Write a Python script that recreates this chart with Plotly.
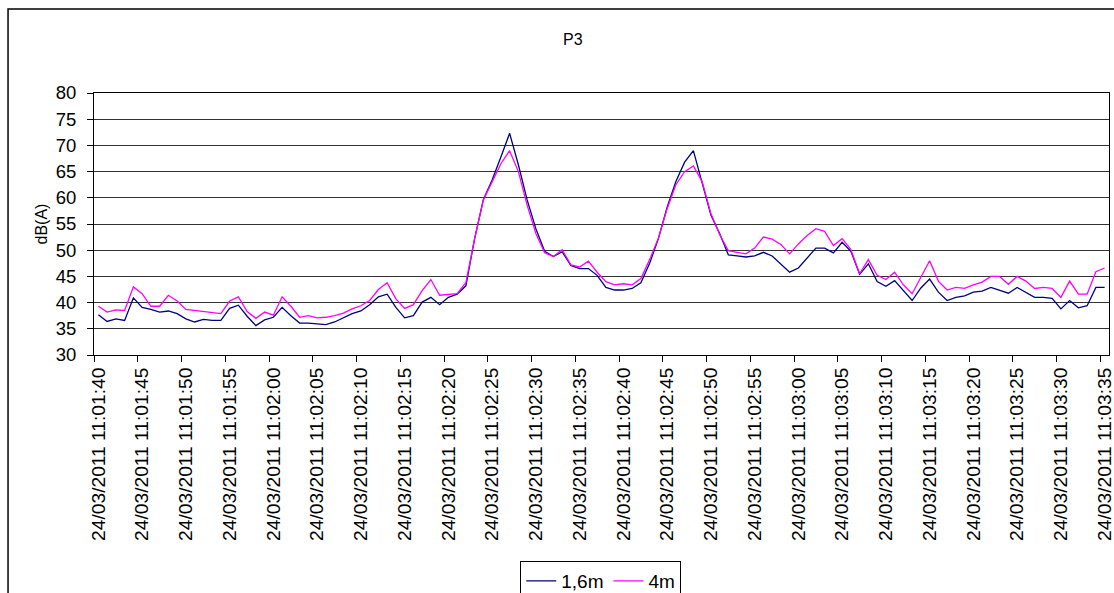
import plotly.graph_objects as go
from datetime import datetime, timedelta

start_time = "24/03/2011 11:01:40"
n_points = 116

level_1_6m = [
    37.7, 36.4, 36.9, 36.6, 40.9, 39.1, 38.7, 38.2, 38.4, 37.9,
    36.9, 36.3, 36.8, 36.6, 36.6, 38.9, 39.5, 37.4, 35.6, 36.7,
    37.2, 39.1, 37.5, 36.1, 36.1, 35.9, 35.8, 36.3, 37.1, 37.9,
    38.4, 39.6, 41.1, 41.6, 39.1, 37.1, 37.5, 40.1, 41.0, 39.6,
    41.0, 41.6, 43.2, 52.2, 59.7, 63.4, 67.8, 72.3, 66.3, 59.6,
    54.1, 49.8, 48.8, 49.7, 47.1, 46.5, 46.5, 45.2, 42.9, 42.4,
    42.4, 42.7, 43.8, 47.5, 52.2, 58.2, 63.1, 66.8, 69.0, 63.0,
    56.7, 53.2, 49.1, 48.9, 48.7, 48.9, 49.6, 48.9, 47.4, 45.8,
    46.6, 48.5, 50.4, 50.4, 49.5, 51.5, 49.8, 45.4, 47.4, 44.0,
    43.1, 44.2, 42.3, 40.4, 42.8, 44.5, 42.0, 40.4, 41.0, 41.3,
    42.0, 42.2, 42.9, 42.3, 41.8, 42.9, 42.0, 41.0, 41.0, 40.8,
    38.8, 40.4, 39.0, 39.4, 42.9, 42.9,
]

level_4m = [
    39.3, 38.2, 38.6, 38.5, 43.0, 41.7, 39.3, 39.3, 41.4, 40.3,
    38.7, 38.5, 38.4, 38.2, 37.9, 40.3, 41.1, 38.3, 37.0, 38.2,
    37.6, 41.1, 39.3, 37.2, 37.5, 37.1, 37.2, 37.5, 38.0, 38.8,
    39.4, 40.4, 42.5, 43.8, 40.7, 38.9, 39.6, 42.3, 44.4, 41.4,
    41.5, 41.7, 43.8, 52.2, 59.6, 63.0, 66.5, 69.0, 65.0, 58.6,
    53.2, 49.5, 48.8, 50.1, 47.2, 46.8, 47.9, 45.8, 44.0, 43.4,
    43.6, 43.4, 44.6, 48.2, 52.3, 57.9, 62.5, 65.0, 66.1, 63.1,
    57.0, 53.0, 49.9, 49.6, 49.3, 50.4, 52.5, 52.1, 51.1, 49.3,
    51.2, 52.8, 54.1, 53.6, 50.9, 52.2, 50.1, 45.5, 48.2, 45.2,
    44.4, 45.8, 43.4, 41.7, 44.8, 48.0, 44.1, 42.4, 42.9, 42.7,
    43.4, 43.9, 45.0, 45.0, 43.5, 45.0, 44.1, 42.7, 42.9, 42.7,
    41.0, 44.1, 41.6, 41.6, 45.9, 46.6,
]

t0 = datetime.strptime(start_time, "%d/%m/%Y %H:%M:%S")
categories = [(t0 + timedelta(seconds=s)).strftime("%d/%m/%Y %H:%M:%S") for s in range(n_points)]
x_idx = list(range(n_points))
tick_idx = x_idx[::5]
tick_text = [categories[i] for i in tick_idx]

FONT = "Liberation Sans, Arial, sans-serif"

fig = go.Figure()
fig.add_trace(go.Scatter(x=x_idx, y=level_1_6m, mode="lines", name="1,6m",
                         line=dict(color="#000080", width=1.3)))
fig.add_trace(go.Scatter(x=x_idx, y=level_4m, mode="lines", name="4m",
                         line=dict(color="#FF00FF", width=1.3)))

W, H = 1114, 593
L = 94
T = 93
plot_right = 1109.5
plot_bottom = 355
R = W - plot_right
B = H - plot_bottom
pw = plot_right - L
ph = plot_bottom - T

def px_to_paper_x(px):
    return (px - L) / pw

def px_to_paper_y(py):
    return (plot_bottom - py) / ph

fig.update_layout(
    width=W, height=H,
    margin=dict(l=L, r=R, t=T, b=B, pad=0, autoexpand=False),
    paper_bgcolor="white", plot_bgcolor="white",
    font=dict(family=FONT, size=19, color="black"),
    showlegend=True,
    legend=dict(orientation="h", x=px_to_paper_x(601), xanchor="center",
                y=px_to_paper_y(561), yanchor="top",
                bordercolor="black", borderwidth=1, bgcolor="white",
                font=dict(size=19), itemwidth=30, tracegroupgap=0),
    xaxis=dict(range=[-0.5, n_points - 0.5], tickmode="array", tickvals=tick_idx,
               ticktext=tick_text, tickangle=-90, ticks="", showgrid=False,
               showline=True, linecolor="black", linewidth=1, mirror=True,
               zeroline=False, tickfont=dict(size=19.2), ticklabelstandoff=4,
               ticklabeloverflow="allow",
               minor=dict(tick0=-0.5, dtick=5, ticks="outside", ticklen=6,
                          tickcolor="black", tickwidth=1, showgrid=False)),
    yaxis=dict(range=[30, 80], dtick=5, tick0=30, ticks="outside", ticklen=6,
               tickcolor="black", showgrid=True, gridcolor="#333333", gridwidth=1,
               showline=True, linecolor="black", linewidth=1, mirror=True,
               zeroline=False, tickfont=dict(size=18.5), ticklabelstandoff=7,
               ticklabeloverflow="allow",
               title=dict(text="dB(A)", font=dict(size=16), standoff=4)),
    shapes=[dict(type="rect", xref="paper", yref="paper",
                 x0=px_to_paper_x(8), x1=px_to_paper_x(1130),
                 y0=px_to_paper_y(620), y1=px_to_paper_y(9),
                 line=dict(color="black", width=1.5), fillcolor="rgba(0,0,0,0)",
                 layer="below")],
    annotations=[dict(text="P3", xref="paper", yref="paper",
                      x=px_to_paper_x(573), y=px_to_paper_y(40),
                      xanchor="center", yanchor="middle", showarrow=False,
                      font=dict(size=16))],
)

fig.write_html("out.html", config={"displayModeBar": False},
               post_script="document.body.style.margin='0';document.body.style.overflow='hidden';")
